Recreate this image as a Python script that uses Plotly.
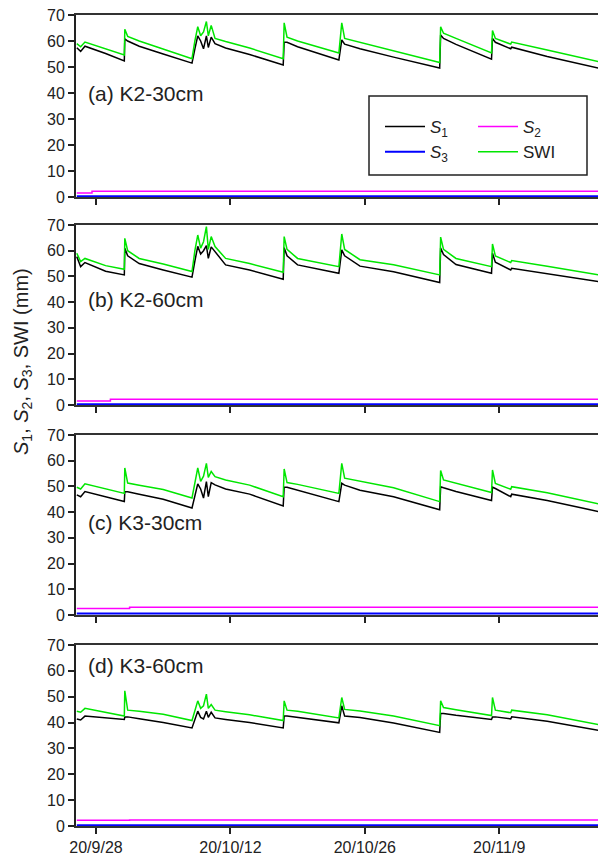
import plotly.graph_objects as go

# ---------------- data ----------------
times = [
    "2020-09-26 00:00", "2020-09-26 09:36", "2020-09-26 20:24", "2020-09-29 00:00",
    "2020-09-30 22:48", "2020-10-01 00:00", "2020-10-01 07:12", "2020-10-02 12:00",
    "2020-10-05 00:00", "2020-10-08 00:00", "2020-10-08 07:12", "2020-10-08 14:24",
    "2020-10-08 21:36", "2020-10-09 04:48", "2020-10-09 12:00", "2020-10-09 16:48",
    "2020-10-10 00:00", "2020-10-10 09:36", "2020-10-11 12:00", "2020-10-14 00:00",
    "2020-10-17 12:00", "2020-10-17 14:24", "2020-10-17 21:36", "2020-10-19 00:00",
    "2020-10-23 07:12", "2020-10-23 14:24", "2020-10-23 21:36", "2020-10-25 12:00",
    "2020-10-29 00:00", "2020-11-02 19:12", "2020-11-02 21:36", "2020-11-03 04:48",
    "2020-11-04 12:00", "2020-11-08 04:48", "2020-11-08 07:12", "2020-11-08 14:24",
    "2020-11-10 04:48", "2020-11-10 07:12", "2020-11-14 00:00", "2020-11-19 09:36",
]

panel_labels = ["(a) K2-30cm", "(b) K2-60cm", "(c) K3-30cm", "(d) K3-60cm"]

swi_a = [59.0, 57.8, 59.6, 57.0, 54.6, 64.5, 61.8, 60.0, 57.0, 53.2,
         60.0, 65.5, 62.0, 63.5, 67.5, 62.0, 66.0, 61.0, 59.8, 57.3,
         53.2, 67.0, 61.5, 60.0, 55.4, 67.0, 61.0, 59.5, 56.0, 51.7,
         65.5, 63.0, 61.0, 55.4, 64.0, 61.0, 58.8, 59.6, 56.5, 52.0]
s1_a = [57.4, 56.0, 58.0, 55.2, 52.3, 60.8, 60.0, 58.0, 55.0, 51.5,
        57.0, 62.0, 60.0, 57.0, 62.0, 57.5, 61.5, 59.0, 57.3, 54.8,
        50.8, 59.5, 59.5, 57.8, 52.7, 60.4, 58.8, 57.0, 53.8, 49.6,
        62.3, 61.0, 58.7, 53.0, 61.0, 59.5, 57.0, 57.6, 54.0, 49.5]

swi_b = [59.0, 55.8, 57.0, 54.2, 52.8, 64.8, 60.0, 57.0, 54.8, 51.9,
         60.0, 66.1, 61.0, 63.5, 69.4, 60.5, 65.5, 61.6, 57.0, 55.0,
         51.6, 65.5, 60.5, 57.0, 53.8, 66.5, 60.5, 56.5, 54.5, 50.6,
         65.3, 60.5, 57.0, 53.8, 62.6, 58.0, 55.4, 56.2, 54.0, 50.6]
s1_b = [57.7, 53.8, 55.4, 52.0, 50.6, 61.0, 58.0, 55.0, 52.5, 49.7,
        56.0, 61.7, 58.7, 60.0, 62.0, 57.0, 61.5, 59.6, 54.5, 52.5,
        48.9, 61.2, 58.0, 54.5, 51.2, 60.3, 58.0, 54.0, 51.8, 47.6,
        61.0, 58.5, 54.6, 51.2, 59.0, 55.5, 52.5, 53.2, 51.0, 48.0]

swi_c = [49.7, 49.0, 51.0, 49.2, 47.3, 57.2, 51.3, 50.5, 48.8, 45.5,
         52.0, 57.2, 52.0, 54.0, 59.0, 53.5, 55.8, 53.8, 52.5, 50.5,
         46.0, 56.8, 51.5, 50.8, 47.3, 59.0, 53.2, 52.0, 49.5, 44.1,
         56.2, 52.5, 51.3, 47.6, 56.4, 51.2, 48.9, 49.9, 47.5, 43.2]
s1_c = [46.7, 46.0, 48.0, 46.0, 44.1, 47.9, 47.9, 47.0, 45.0, 41.6,
        46.0, 51.0, 49.0, 45.5, 51.9, 46.0, 51.5, 50.6, 49.0, 47.0,
        42.4, 49.7, 49.7, 48.5, 44.1, 51.2, 50.5, 48.5, 46.0, 40.9,
        49.9, 49.5, 48.0, 44.5, 49.7, 49.2, 46.0, 47.0, 44.5, 40.2]

swi_d = [44.4, 44.0, 45.5, 44.0, 42.5, 52.3, 44.8, 44.4, 43.2, 40.8,
         45.0, 48.4, 45.5, 46.5, 51.0, 45.5, 47.0, 44.8, 44.2, 43.0,
         40.8, 48.4, 44.8, 44.4, 41.8, 49.7, 45.1, 44.5, 42.5, 38.8,
         48.4, 45.8, 45.0, 42.7, 49.7, 44.8, 43.8, 44.8, 43.0, 39.2]
s1_d = [41.4, 41.0, 42.5, 41.8, 41.2, 42.2, 42.2, 41.5, 40.0, 37.9,
        41.5, 44.4, 42.0, 41.4, 44.4, 42.0, 44.0, 41.8, 41.2, 40.0,
        37.9, 42.5, 42.5, 42.0, 39.9, 46.5, 42.5, 42.0, 39.8, 36.2,
        43.5, 43.5, 42.8, 41.2, 42.2, 42.2, 41.4, 42.2, 40.5, 37.0]

s2_t_a = ["2020-09-26 00:00", "2020-09-27 14:00", "2020-11-19 12:00"]
s2_a = [1.5, 2.2, 2.2]
s2_t_b = ["2020-09-26 00:00", "2020-09-29 12:00", "2020-11-19 12:00"]
s2_b = [1.6, 2.2, 2.2]
s2_t_c = ["2020-09-26 00:00", "2020-10-01 12:00", "2020-11-19 12:00"]
s2_c = [2.5, 3.0, 3.0]
s2_t_d = ["2020-09-26 00:00", "2020-10-01 12:00", "2020-11-19 12:00"]
s2_d = [2.2, 2.3, 2.3]

s3_t = ["2020-09-26 00:00", "2020-11-19 12:00"]
s3_a = [0.3, 0.3]
s3_b = [0.3, 0.3]
s3_c = [0.6, 0.6]
s3_d = [0.3, 0.3]

label_y = [40, 41, 36, 62]

tick_vals = ["2020-09-28", "2020-10-12", "2020-10-26", "2020-11-09"]
tick_text = ["20/9/28", "20/10/12", "20/10/26", "20/11/9"]
x_range = ["2020-09-25 22:00", "2020-11-19 07:00"]

# ---------------- figure ----------------
W, H = 598, 864
ML, MR, MT, MB = 76, 0, 15, 38
PH = H - MT - MB
PW = W - ML - MR

def py(pix):
    return (H - MB - pix) / PH

def px(pix):
    return (pix - ML) / PW

domains = [(py(197), py(15)), (py(405), py(225)), (py(615), py(435)), (py(826), py(645))]

S1_COL, S2_COL, S3_COL, SWI_COL = "#000000", "#ff00ff", "#0000ff", "#00e600"

series = [
    (s1_a, swi_a, s2_t_a, s2_a, s3_a),
    (s1_b, swi_b, s2_t_b, s2_b, s3_b),
    (s1_c, swi_c, s2_t_c, s2_c, s3_c),
    (s1_d, swi_d, s2_t_d, s2_d, s3_d),
]

fig = go.Figure()
FONT = "Liberation Sans, Arial, sans-serif"
names = ["<i>S</i><sub>1</sub>", "<i>S</i><sub>2</sub>", "<i>S</i><sub>3</sub>", "SWI"]

for i, (s1, swi, s2t, s2, s3) in enumerate(series):
    n = "" if i == 0 else str(i + 1)
    xa, ya = "x" + n, "y" + n
    show = i == 0
    fig.add_trace(go.Scatter(x=times, y=s1, mode="lines", line=dict(color=S1_COL, width=1.5),
                             xaxis=xa, yaxis=ya, name=names[0], showlegend=show, legend="legend"))
    fig.add_trace(go.Scatter(x=s2t, y=s2, mode="lines", line=dict(color=S2_COL, width=1.5, shape="hv"),
                             xaxis=xa, yaxis=ya, name=names[1], showlegend=show, legend="legend2"))
    fig.add_trace(go.Scatter(x=s3_t, y=s3, mode="lines", line=dict(color=S3_COL, width=2),
                             xaxis=xa, yaxis=ya, name=names[2], showlegend=show, legend="legend"))
    fig.add_trace(go.Scatter(x=times, y=swi, mode="lines", line=dict(color=SWI_COL, width=1.5),
                             xaxis=xa, yaxis=ya, name=names[3], showlegend=show, legend="legend2"))

    xkey = "xaxis" + n
    ykey = "yaxis" + n
    fig.layout[xkey] = dict(
        domain=[0, 1], anchor=ya, range=x_range, type="date",
        tickvals=tick_vals, ticktext=tick_text, showticklabels=(i == 3),
        ticks="outside", ticklen=6, tickwidth=2, tickcolor="#222",
        showline=True, linecolor="#333", linewidth=2, mirror=True,
        showgrid=False, zeroline=False,
        tickfont=dict(family=FONT, size=16, color="#222"),
    )
    fig.layout[ykey] = dict(
        domain=list(domains[i]), anchor=xa, range=[0, 70],
        tickvals=[0, 10, 20, 30, 40, 50, 60, 70],
        ticks="outside", ticklen=6, tickwidth=2, tickcolor="#222",
        showline=True, linecolor="#222", linewidth=2, mirror=False,
        showgrid=False, zeroline=False,
        tickfont=dict(family=FONT, size=16, color="#222"),
    )
    fig.add_annotation(text=panel_labels[i], xref=xa + " domain", yref=ya,
                       x=px(86), y=label_y[i], xanchor="left", yanchor="middle",
                       showarrow=False, font=dict(family=FONT, size=21, color="#222"))

fig.add_annotation(
    text="<i>S</i><sub>1</sub>, <i>S</i><sub>2</sub>, <i>S</i><sub>3</sub>, SWI (mm)",
    xref="paper", yref="paper", x=px(22), y=py(362), textangle=-90,
    xanchor="center", yanchor="middle", showarrow=False,
    font=dict(family=FONT, size=20, color="#222"))

fig.add_shape(type="rect", xref="paper", yref="paper",
              x0=px(369), x1=px(587), y0=py(175), y1=py(96),
              line=dict(color="#222", width=1.5), fillcolor="rgba(0,0,0,0)")

leg_common = dict(bgcolor="rgba(0,0,0,0)", borderwidth=0, orientation="v",
                  font=dict(family=FONT, size=17, color="#222"),
                  xanchor="left", yanchor="top", tracegroupgap=0, itemwidth=40)
fig.update_layout(
    legend=dict(x=px(380), y=py(109), **leg_common),
    legend2=dict(x=px(473), y=py(109), **leg_common),
)

fig.update_layout(
    width=W, height=H,
    margin=dict(l=ML, r=MR, t=MT, b=MB),
    paper_bgcolor="white", plot_bgcolor="white",
    showlegend=True,
)

fig.write_html("out.html")
